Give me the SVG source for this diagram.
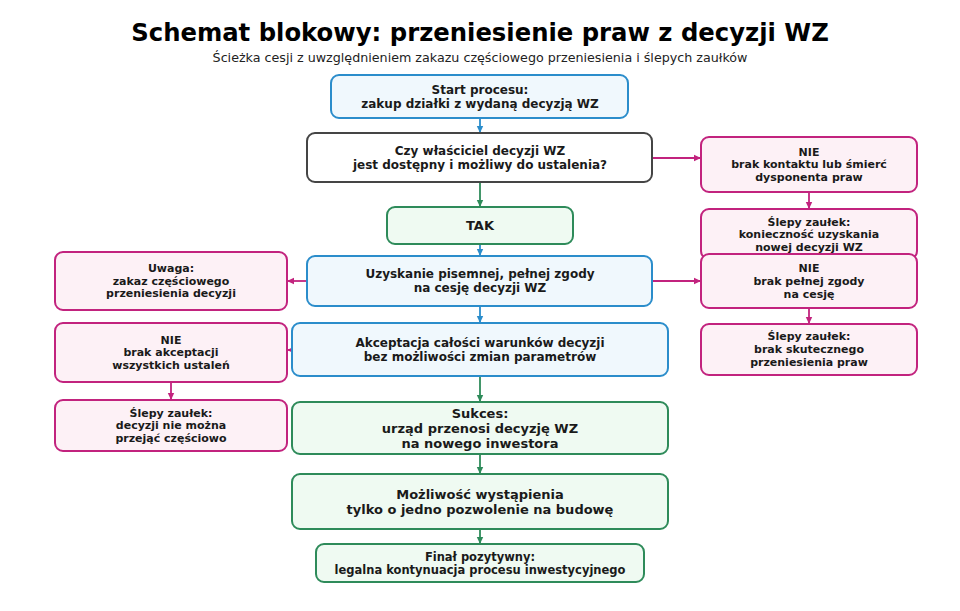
<svg xmlns="http://www.w3.org/2000/svg" width="960" height="611" viewBox="0 0 960 611">
<defs>
<style>
.t{font-family:"DejaVu Sans","Noto Sans",sans-serif;font-weight:bold;fill:#1a1a1a;text-anchor:middle;dominant-baseline:central}
.title{font-family:"DejaVu Sans","Noto Sans",sans-serif;font-weight:bold;fill:#000;text-anchor:middle;font-size:24.3px}
.sub{font-family:"DejaVu Sans","Noto Sans",sans-serif;fill:#222;text-anchor:middle;font-size:12.7px}
.blue{fill:#f0f8fd;stroke:#2b8dcb;stroke-width:2}
.green{fill:#effaf2;stroke:#2e8b5a;stroke-width:2}
.mag{fill:#fdf1f6;stroke:#c2237e;stroke-width:2}
.grey{fill:#ffffff;stroke:#454545;stroke-width:2}
.f12{font-size:12px}.f13{font-size:13px}.f11{font-size:11px}.f115{font-size:11.5px}
.cb{stroke:#2b8dcb;stroke-width:1.8;fill:none;marker-end:url(#ab)}
.cg{stroke:#2e8b5a;stroke-width:1.8;fill:none;marker-end:url(#ag)}
.cm{stroke:#c2237e;stroke-width:1.8;fill:none;marker-end:url(#am)}
</style>
<marker id="ab" markerUnits="userSpaceOnUse" markerWidth="8" markerHeight="8" refX="7" refY="4" orient="auto"><path d="M0,0.8 L7,4 L0,7.2 Z" fill="#2b8dcb"/></marker>
<marker id="ag" markerUnits="userSpaceOnUse" markerWidth="8" markerHeight="8" refX="7" refY="4" orient="auto"><path d="M0,0.8 L7,4 L0,7.2 Z" fill="#2e8b5a"/></marker>
<marker id="am" markerUnits="userSpaceOnUse" markerWidth="8" markerHeight="8" refX="7" refY="4" orient="auto"><path d="M0,0.8 L7,4 L0,7.2 Z" fill="#c2237e"/></marker>
</defs>
<rect width="960" height="611" fill="#ffffff"/>
<text class="title" x="480" y="41">Schemat blokowy: przeniesienie praw z decyzji WZ</text>
<text class="sub" x="480" y="62">Ścieżka cesji z uwzględnieniem zakazu częściowego przeniesienia i ślepych zaułków</text>

<g id="connectors">
<path class="cb" d="M480 118 L480 133"/>
<path class="cg" d="M480 182 L480 207"/>
<path class="cb" d="M480 244 L480 256"/>
<path class="cb" d="M480 306 L480 323"/>
<path class="cg" d="M480 376 L480 402"/>
<path class="cg" d="M480 454 L480 474"/>
<path class="cg" d="M480 529 L480 544"/>
<path class="cm" d="M652 158 L701 158"/>
<path class="cm" d="M809 192 L809 209"/>
<path class="cm" d="M652 281 L701 281"/>
<path class="cm" d="M809 308 L809 324"/>
<path class="cm" d="M307 281 L287 281"/>
<path class="cm" d="M292 350 L287 350"/>
<path class="cm" d="M171 382 L171 400"/>
</g>

<g id="start">
<rect class="blue" x="331" y="75" width="297" height="43" rx="8"/>
<text class="t f12" x="480" y="90">Start procesu:</text>
<text class="t f12" x="480" y="103.5">zakup działki z wydaną decyzją WZ</text>
</g>
<g id="pytanie">
<rect class="grey" x="307" y="133" width="345" height="49" rx="8"/>
<text class="t f12" x="480" y="151">Czy właściciel decyzji WZ</text>
<text class="t f12" x="480" y="165">jest dostępny i możliwy do ustalenia?</text>
</g>
<g id="tak">
<rect class="green" x="387" y="207" width="186" height="37" rx="8"/>
<text class="t f13" x="480" y="225.5">TAK</text>
</g>
<g id="uzyskanie">
<rect class="blue" x="307" y="256" width="345" height="50" rx="8"/>
<text class="t f12" x="480" y="274">Uzyskanie pisemnej, pełnej zgody</text>
<text class="t f12" x="480" y="288">na cesję decyzji WZ</text>
</g>
<g id="akceptacja">
<rect class="blue" x="292" y="323" width="376" height="53" rx="8"/>
<text class="t f12" x="480" y="342.5">Akceptacja całości warunków decyzji</text>
<text class="t f12" x="480" y="356.5">bez możliwości zmian parametrów</text>
</g>
<g id="sukces">
<rect class="green" x="292" y="402" width="376" height="52" rx="8"/>
<text class="t f13" x="480" y="413">Sukces:</text>
<text class="t f13" x="480" y="428">urząd przenosi decyzję WZ</text>
<text class="t f13" x="480" y="443">na nowego inwestora</text>
</g>
<g id="mozliwosc">
<rect class="green" x="292" y="474" width="376" height="55" rx="8"/>
<text class="t f13" x="480" y="494">Możliwość wystąpienia</text>
<text class="t f13" x="480" y="509.5">tylko o jedno pozwolenie na budowę</text>
</g>
<g id="final">
<rect class="green" x="316" y="544" width="328" height="38" rx="8"/>
<text class="t f115" x="480" y="556.5">Finał pozytywny:</text>
<text class="t f115" x="480" y="569.5">legalna kontynuacja procesu inwestycyjnego</text>
</g>

<g id="nie1">
<rect class="mag" x="701" y="137" width="216" height="55" rx="8"/>
<text class="t f11" x="809" y="152">NIE</text>
<text class="t f11" x="809" y="164.5">brak kontaktu lub śmierć</text>
<text class="t f11" x="809" y="177">dysponenta praw</text>
</g>
<g id="slepy1">
<rect class="mag" x="701" y="209" width="216" height="50" rx="8"/>
<text class="t f11" x="809" y="222">Ślepy zaułek:</text>
<text class="t f11" x="809" y="234.5">konieczność uzyskania</text>
<text class="t f11" x="809" y="247">nowej decyzji WZ</text>
</g>
<g id="nie2">
<rect class="mag" x="701" y="254" width="216" height="54" rx="8"/>
<text class="t f11" x="809" y="268">NIE</text>
<text class="t f11" x="809" y="281">brak pełnej zgody</text>
<text class="t f11" x="809" y="294">na cesję</text>
</g>
<g id="slepy2">
<rect class="mag" x="701" y="324" width="216" height="51" rx="8"/>
<text class="t f11" x="809" y="336.5">Ślepy zaułek:</text>
<text class="t f11" x="809" y="349.5">brak skutecznego</text>
<text class="t f11" x="809" y="362.5">przeniesienia praw</text>
</g>
<g id="uwaga">
<rect class="mag" x="55" y="252" width="232" height="58" rx="8"/>
<text class="t f11" x="171" y="268.5">Uwaga:</text>
<text class="t f11" x="171" y="281">zakaz częściowego</text>
<text class="t f11" x="171" y="293.5">przeniesienia decyzji</text>
</g>
<g id="nie3">
<rect class="mag" x="55" y="323" width="232" height="59" rx="8"/>
<text class="t f11" x="171" y="340">NIE</text>
<text class="t f11" x="171" y="352.5">brak akceptacji</text>
<text class="t f11" x="171" y="365">wszystkich ustaleń</text>
</g>
<g id="slepy3">
<rect class="mag" x="55" y="400" width="232" height="51" rx="8"/>
<text class="t f11" x="171" y="413">Ślepy zaułek:</text>
<text class="t f11" x="171" y="425.5">decyzji nie można</text>
<text class="t f11" x="171" y="438">przejąć częściowo</text>
</g>
</svg>
